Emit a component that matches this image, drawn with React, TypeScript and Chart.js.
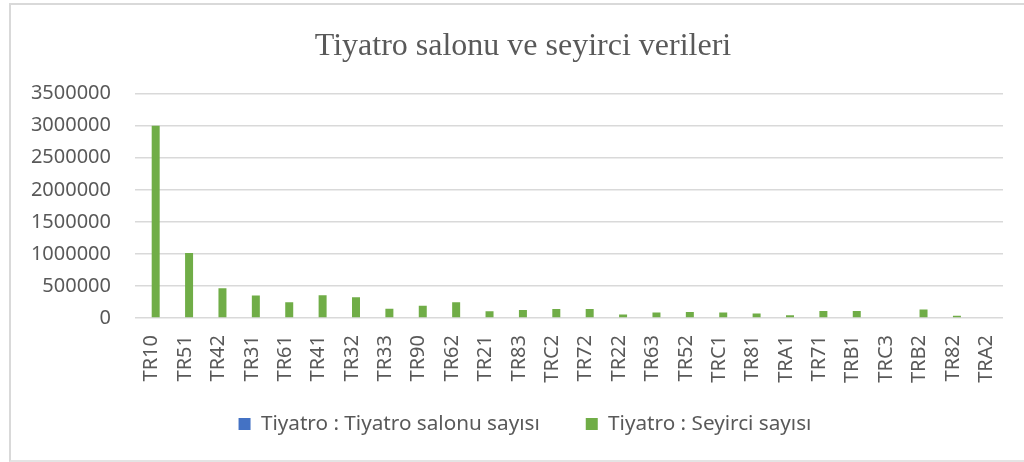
import React, { useEffect, useRef } from "react";
import { Chart, registerables } from "chart.js";

Chart.register(...registerables);

const CATEGORIES: string[] = [
  "TR10", "TR51", "TR42", "TR31", "TR61", "TR41", "TR32", "TR33", "TR90", "TR62",
  "TR21", "TR83", "TRC2", "TR72", "TR22", "TR63", "TR52", "TRC1", "TR81", "TRA1",
  "TR71", "TRB1", "TRC3", "TRB2", "TR82", "TRA2",
];

// Tiyatro salonu sayısı (too small to be visible at this scale; estimated)
const SALON_SAYISI: number[] = [
  76, 30, 12, 10, 8, 9, 10, 6, 7, 7, 5, 5, 6, 5, 3, 4, 4, 4, 3, 2, 4, 4, 1, 5, 2, 1,
];

// Tiyatro seyirci sayısı
const SEYIRCI_SAYISI: number[] = [
  3000000, 1015000, 464000, 350000, 245000, 355000, 323000, 146000, 193000, 245000,
  105000, 125000, 140000, 140000, 53000, 84000, 94000, 84000, 69000, 42000,
  109000, 109000, 0, 131000, 37000, 4000,
];

const SERIES_NAMES: string[] = ["Tiyatro : Tiyatro salonu sayısı", "Tiyatro : Seyirci sayısı"];
const TITLE = "Tiyatro salonu ve seyirci verileri";
const Y_MIN = 0;
const Y_MAX = 3500000;
const Y_STEP = 500000;

const TEXT_COLOR = "#595959";
const GRID_COLOR = "#d9d9d9";
const SERIES_COLORS: string[] = ["#4472C4", "#70AD47"];

// horizontal centres of title and legend, and top of legend box
const TITLE_CENTER_X = 523;
const LEGEND_CENTER_X = 525;
const LEGEND_TOP = 367.65;

const layoutTweak = {
  id: "layoutTweak",
  afterLayout(chart: any) {
    const t = chart.titleBlock;
    if (t) {
      t.left = 2 * TITLE_CENTER_X - t.right;
    }
    const l = chart.legend;
    if (l) {
      l.left = 2 * LEGEND_CENTER_X - l.right;
      const h = l.height;
      l.top = LEGEND_TOP;
      l.bottom = LEGEND_TOP + h;
    }
  },
};

// bars thinner than a fraction of a pixel are not painted (as in the original)
const subPixelColor = (color: string) => (c: any) => {
  if (c.type !== "data") return color;
  const y = c.chart.scales?.y;
  if (!y || !c.parsed) return color;
  const h = Math.abs(y.getPixelForValue(c.parsed.y) - y.getPixelForValue(0));
  return h < 0.5 ? "rgba(0,0,0,0)" : color;
};

export default function App() {
  const canvasRef = useRef<HTMLCanvasElement | null>(null);

  useEffect(() => {
    const canvas = canvasRef.current;
    if (!canvas) return;
    const chart = new Chart(canvas, {
      type: "bar",
      data: {
        labels: CATEGORIES,
        datasets: [
          {
            label: SERIES_NAMES[0],
            data: SALON_SAYISI,
            backgroundColor: subPixelColor(SERIES_COLORS[0]) as any,
            borderWidth: 0,
            inflateAmount: 0,
            barPercentage: 1,
            categoryPercentage: 0.479,
          },
          {
            label: SERIES_NAMES[1],
            data: SEYIRCI_SAYISI,
            backgroundColor: subPixelColor(SERIES_COLORS[1]) as any,
            borderWidth: 0,
            barPercentage: 1,
            categoryPercentage: 0.479,
          },
        ],
      },
      options: {
        responsive: false,
        animation: false,
        devicePixelRatio: 1,
        layout: { padding: { left: 31, right: 21, top: 0, bottom: 0 } },
        plugins: {
          title: {
            display: true,
            text: TITLE,
            color: TEXT_COLOR,
            font: { family: "'Liberation Serif', 'Times New Roman', serif", size: 32, weight: "normal" },
            padding: { top: 27, bottom: 28.3 },
          },
          legend: {
            display: true,
            position: "bottom",
            align: "center",
            labels: {
              boxWidth: 12,
              boxHeight: 12,
              padding: 46,
              color: TEXT_COLOR,
              font: { family: "'Noto Sans', sans-serif", size: 20.7 },
              generateLabels: (ch: any) => {
                const items = (Chart as any).defaults.plugins.legend.labels.generateLabels(ch);
                items.forEach((it: any, i: number) => {
                  it.fillStyle = SERIES_COLORS[i];
                  it.strokeStyle = SERIES_COLORS[i];
                  it.lineWidth = 0;
                });
                return items;
              },
            },
          },
          tooltip: { enabled: false },
        },
        scales: {
          x: {
            type: "category",
            grid: { display: false },
            border: { display: false },
            ticks: {
              color: TEXT_COLOR,
              font: { family: "'Noto Sans', sans-serif", size: 20 },
              minRotation: 90,
              maxRotation: 90,
              autoSkip: false,
              padding: 9,
            },
            afterFit: (s: any) => {
              s.height = 67.3;
            },
          },
          y: {
            min: Y_MIN,
            max: Y_MAX,
            grid: { color: GRID_COLOR, lineWidth: 1.5, drawTicks: false },
            border: { display: false },
            ticks: {
              stepSize: Y_STEP,
              color: TEXT_COLOR,
              font: { family: "'Noto Sans', sans-serif", size: 20 },
              padding: 24,
              callback: (v: any) => String(v),
            },
            afterFit: (s: any) => {
              s.width = 104;
            },
          },
        },
      },
      plugins: [layoutTweak],
    });
    return () => chart.destroy();
  }, []);

  return (
    <div
      style={{
        position: "fixed",
        left: 0,
        top: 0,
        width: 1024,
        height: 462,
        overflow: "hidden",
        background: "#ffffff",
      }}
    >
      <div
        style={{
          position: "absolute",
          left: 9,
          top: 3,
          width: 1100,
          height: 455,
          borderLeft: "2px solid #d9d9d9",
          borderTop: "2px solid #d9d9d9",
          borderBottom: "2px solid #e4e4e4",
        }}
      />
      <canvas
        ref={canvasRef}
        width={1024}
        height={462}
        style={{ position: "absolute", left: 0, top: 0, width: 1024, height: 462 }}
      />
    </div>
  );
}
